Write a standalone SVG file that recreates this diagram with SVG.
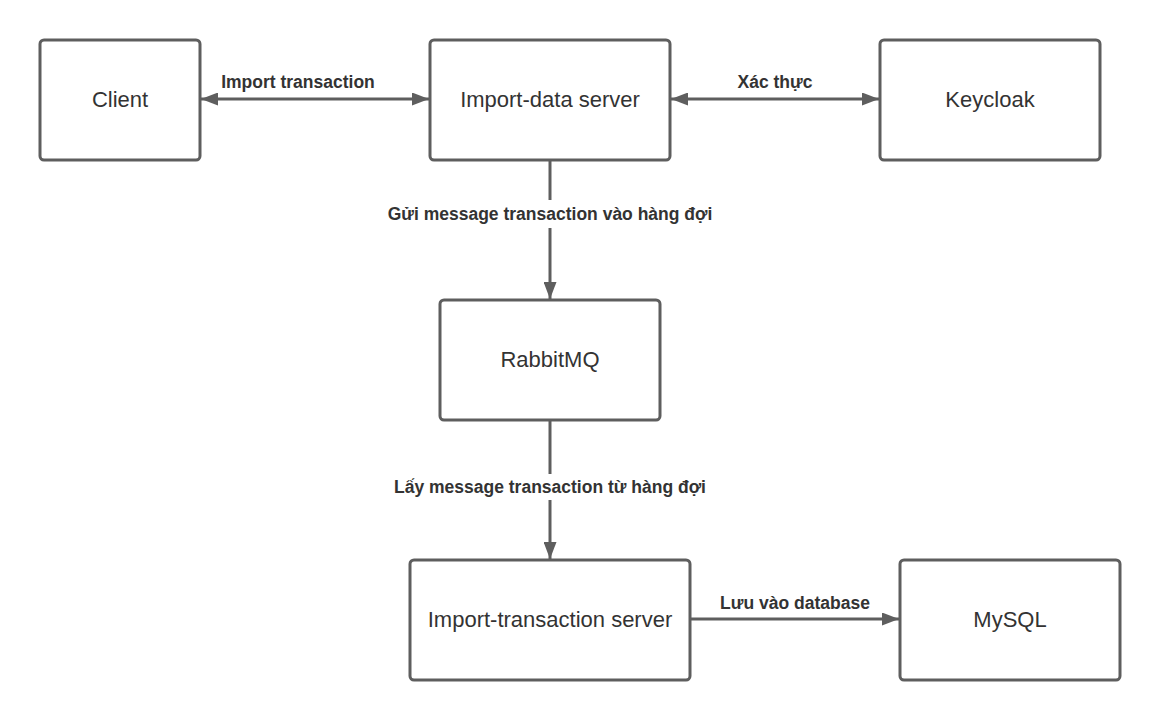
<svg xmlns="http://www.w3.org/2000/svg" width="1160" height="720" viewBox="0 0 1160 720">
<style>
.box{fill:#fff;stroke:#5e5e5e;stroke-width:3}
.t{font-family:"Liberation Sans",Arial,sans-serif;font-size:22px;fill:#333;text-anchor:middle}
.l{font-family:"Liberation Sans",Arial,sans-serif;font-size:17.5px;font-weight:bold;fill:#333;text-anchor:middle}
.c{stroke:#5e5e5e;stroke-width:3;fill:none}
</style>
<defs>
<marker id="ah" viewBox="0 0 17 13" refX="17" refY="6.5" markerWidth="17" markerHeight="13" markerUnits="userSpaceOnUse" orient="auto-start-reverse">
<path d="M0,0 L17,6.5 L0,13 Z" fill="#5e5e5e"/>
</marker>
</defs>
<rect width="1160" height="720" fill="#fff"/>
<g id="connectors">
<line class="c" x1="201" y1="99" x2="429" y2="99" marker-start="url(#ah)" marker-end="url(#ah)"/>
<line class="c" x1="671" y1="99" x2="879" y2="99" marker-start="url(#ah)" marker-end="url(#ah)"/>
<line class="c" x1="550" y1="161" x2="550" y2="299" marker-end="url(#ah)"/>
<line class="c" x1="550" y1="421" x2="550" y2="559" marker-end="url(#ah)"/>
<line class="c" x1="691" y1="619" x2="899" y2="619" marker-end="url(#ah)"/>
<rect x="380" y="200" width="340" height="28" fill="#fff"/>
<rect x="385" y="474" width="330" height="26" fill="#fff"/>
<text class="l" x="298" y="88">Import transaction</text>
<text class="l" x="775" y="88">Xác thực</text>
<text class="l" x="550" y="220">Gửi message transaction vào hàng đợi</text>
<text class="l" x="550" y="493">Lấy message transaction từ hàng đợi</text>
<text class="l" x="795" y="609">Lưu vào database</text>
</g>
<g id="client"><rect class="box" x="40" y="40" width="160" height="120" rx="4"/><text class="t" x="120" y="107">Client</text></g>
<g id="import-data"><rect class="box" x="430" y="40" width="240" height="120" rx="4"/><text class="t" x="550" y="107">Import-data server</text></g>
<g id="keycloak"><rect class="box" x="880" y="40" width="220" height="120" rx="4"/><text class="t" x="990" y="107">Keycloak</text></g>
<g id="rabbitmq"><rect class="box" x="440" y="300" width="220" height="120" rx="4"/><text class="t" x="550" y="367">RabbitMQ</text></g>
<g id="import-transaction"><rect class="box" x="410" y="560" width="280" height="120" rx="4"/><text class="t" x="550" y="627">Import-transaction server</text></g>
<g id="mysql"><rect class="box" x="900" y="560" width="220" height="120" rx="4"/><text class="t" x="1010" y="627">MySQL</text></g>
</svg>
